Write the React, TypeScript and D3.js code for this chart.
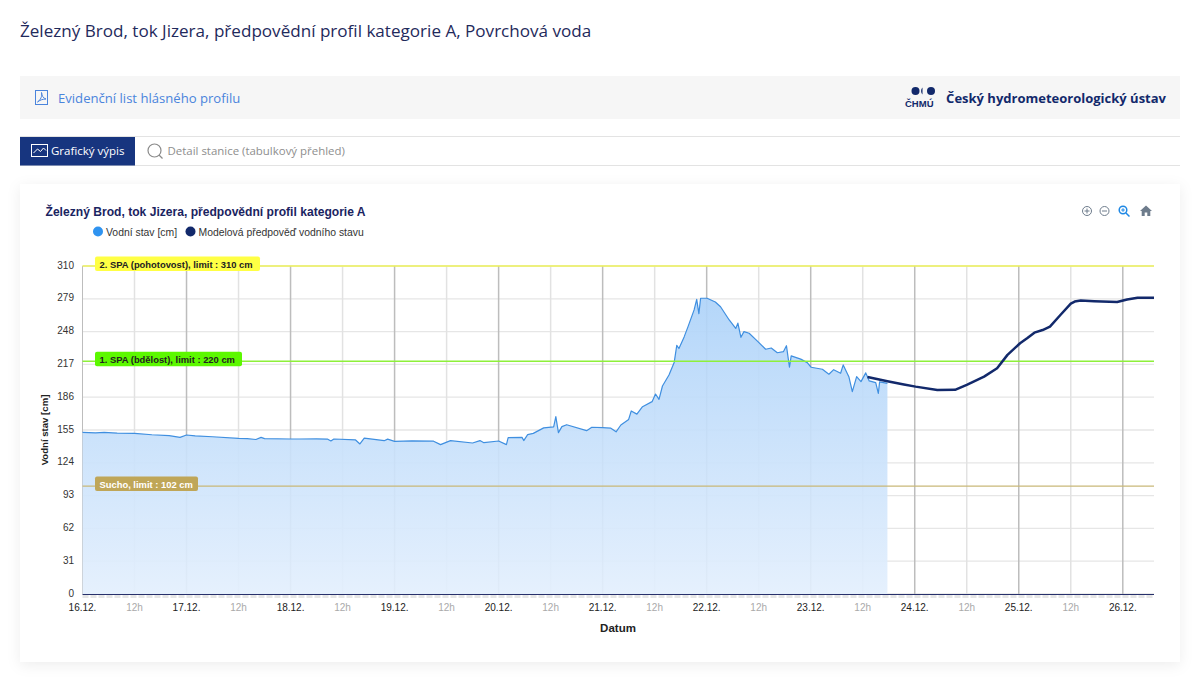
import { scaleLinear, line, area, curveLinear } from 'd3';

// Hours since 16.12. 00:00 and water level in cm.
const waterHours = [0, 3, 5, 8, 12, 16, 20, 22.5, 24, 26, 30, 36, 38, 40, 41.2, 42, 48, 50, 54, 56.5, 57.3, 58, 63, 64, 65, 69.6, 70.4, 72, 76, 81, 82.6, 84.9, 90, 91.7, 92.6, 96, 97.8, 98.2, 101.4, 101.8, 102.7, 104, 106.4, 108.7, 109.2, 109.8, 110.6, 111.7, 116.3, 117.5, 120, 121.9, 123.1, 124.2, 126, 126.6, 127.9, 129.2, 131.4, 132.2, 133, 133.8, 135.3, 136.5, 137.1, 137.6, 138.8, 139.7, 141.1, 141.7, 142.2, 142.6, 144.1, 146, 147.2, 149.2, 150.7, 151.2, 151.9, 152.6, 153.8, 155.7, 157.6, 158.9, 160.3, 161.7, 162.4, 163.1, 163.5, 165.7, 167.2, 168.1, 170.7, 172.2, 173.3, 174.9, 175.5, 176.8, 177.6, 178.6, 179.6, 180.7, 181.5, 183, 183.6, 183.9, 185.7];
const waterLevels = [152.8, 152.2, 152.8, 152, 151.9, 150.5, 149.6, 148, 150.3, 149.5, 148.6, 147, 146.8, 146, 148, 146.8, 146.5, 146.5, 146.6, 146.4, 144.6, 146.5, 145.6, 141.8, 147.4, 144.9, 146.4, 144.3, 144.8, 144.4, 141.2, 145, 142.7, 145, 143, 144.6, 141.2, 147.8, 148, 145, 150.6, 151.8, 157, 158, 167.6, 152.5, 158.2, 160, 154.4, 157.6, 157.2, 156.7, 153.3, 159.7, 165, 173, 170, 177, 181.8, 189, 184, 196.6, 207, 218.7, 235, 232, 243, 252.7, 268.5, 278.5, 265, 279.5, 279.5, 276, 271.5, 259, 251, 256, 242.6, 248, 246.4, 239, 231.3, 232.5, 228, 229, 234.7, 214.3, 225, 222, 218.7, 214.3, 212.4, 207.7, 212, 208.6, 216.5, 205.4, 191.3, 205.4, 200.7, 209, 201.4, 199.8, 189.6, 200.5, 199];

const forecastHours = [181.1, 185.7, 189.5, 192.2, 197.2, 201.3, 204, 208, 211, 213.4, 216.3, 218, 219.6, 221.5, 223.2, 225.6, 228, 228.9, 230.3, 233.4, 238.7, 241, 243.4, 247.2];
const forecastLevels = [205, 201, 198, 196, 192.9, 193, 197.7, 205.4, 213.3, 226, 237, 242, 247, 249.5, 252.7, 263.7, 274.4, 276.4, 277.3, 276.7, 276, 278.3, 279.9, 279.9];

const yTicks = [0, 31, 62, 93, 124, 155, 186, 217, 248, 279, 310];
const dayLabels = ['16.12.', '17.12.', '18.12.', '19.12.', '20.12.', '21.12.', '22.12.', '23.12.', '24.12.', '25.12.', '26.12.'];

const limitValues = [310, 220, 102];
const limitLabels = ['2. SPA (pohotovost), limit : 310 cm', '1. SPA (bdělost), limit : 220 cm', 'Sucho, limit : 102 cm'];
const limitLineColors = ['#eef25a', '#8ef03a', '#c9b878'];
const limitBoxColors = ['#ffff44', '#5cf800', '#bfa658'];
const limitTextColors = ['#222', '#222', '#fff'];
const limitBoxWidths = [165, 147, 103];

const NAVY = '#12296b';
const CHART_FONT = '"Liberation Sans", Arial, sans-serif';
const UI_FONT = '"Open Sans", "Noto Sans", sans-serif';

const x = scaleLinear().domain([0, 247.2]).range([82.5, 1154]);
const y = scaleLinear().domain([0, 310]).range([594, 266]);

const pair = (hours: number[], values: number[]) => hours.map((h, i) => [h, values[i]] as [number, number]);

const waterLine = line<[number, number]>().x((d) => x(d[0])).y((d) => y(d[1])).curve(curveLinear);
const waterArea = area<[number, number]>().x((d) => x(d[0])).y0(y(0)).y1((d) => y(d[1])).curve(curveLinear);

export default function App() {
  const water = pair(waterHours, waterLevels);
  const forecast = pair(forecastHours, forecastLevels);

  return (
    <>
      <style>{'body{margin:0;background:#fff}'}</style>
      <svg width={1200} height={684} style={{ display: 'block' }}>
        <defs>
          <linearGradient id="waterFill" gradientUnits="userSpaceOnUse" x1="0" y1={y(280)} x2="0" y2={y(0)}>
            <stop offset="0" stopColor="#aed3f9" />
            <stop offset="1" stopColor="#e3effd" />
          </linearGradient>
          <filter id="cardShadow" x="-3%" y="-5%" width="106%" height="110%">
            <feDropShadow dx="0" dy="3" stdDeviation="7" floodColor="#000" floodOpacity="0.07" />
          </filter>
        </defs>

        {/* page header */}
        <text x={20} y={37} fontFamily={UI_FONT} fontSize={17.08} fill="#1f2a5c">
          Železný Brod, tok Jizera, předpovědní profil kategorie A, Povrchová voda
        </text>

        <rect x={20} y={76} width={1160} height={43} fill="#f6f6f6" />
        <g fill="none" stroke="#4a84dc" strokeWidth={1}>
          <rect x={35.5} y={90.5} width={12} height={14} />
          <path d="M37.5 102c3-2 5-6 4-9.500c0 3 2 6 4.500 6.500c-3 0-6 1-8.500 3z" />
        </g>
        <text x={58} y={102.500} fontFamily={UI_FONT} fontSize={13.100} fill="#4a84dc">Evidenční list hlásného profilu</text>

        {/* logo */}
        <g fill="#12296b">
          <circle cx={915.500} cy={91} r={4} />
          <path d="M922.500 87.500a5 5 0 0 0 0 7z" />
          <circle cx={931} cy={91} r={4} />
          <text x={905} y={107} fontFamily={CHART_FONT} fontWeight="bold" fontSize={9.500}>ČHMÚ</text>
        </g>
        <text x={1166} y={102.500} textAnchor="end" fontFamily={UI_FONT} fontWeight="bold" fontSize={13} fill={NAVY}>Český hydrometeorologický ústav</text>

        {/* tabs */}
        <line x1={20} x2={1180} y1={136.500} y2={136.500} stroke="#e3e3e3" />
        <line x1={20} x2={1180} y1={165.500} y2={165.500} stroke="#e3e3e3" />
        <rect x={20} y={137} width={115} height={28.500} fill="#17357f" />
        <g fill="none" stroke="#fff" strokeWidth={1}>
          <rect x={31.500} y={144.500} width={16} height={12} />
          <path d="M33.500 153l4-4 3 2.500 3-3.500 2.500 2.500" />
        </g>
        <text x={51} y={155} fontFamily={UI_FONT} fontSize={11.500} fill="#fff">Grafický výpis</text>
        <g fill="none" stroke="#8a8a8a" strokeWidth={1.200}>
          <circle cx={154.500} cy={150.500} r={6.500} />
          <line x1={159} y1={155} x2={162.500} y2={158.500} />
        </g>
        <text x={167.500} y={155} fontFamily={UI_FONT} fontSize={11.450} fill="#8e8e8e">Detail stanice (tabulkový přehled)</text>

        {/* card */}
        <rect x={20} y={184} width={1160} height={478} fill="#fff" filter="url(#cardShadow)" />

        <text x={45.500} y={215.500} fontFamily={CHART_FONT} fontWeight="bold" fontSize={12.100} fill="#1a2461">
          Železný Brod, tok Jizera, předpovědní profil kategorie A
        </text>

        {/* legend */}
        <circle cx={98} cy={231.500} r={5} fill="#2f93f0" />
        <text x={106} y={235.500} fontFamily={CHART_FONT} fontSize={10.400} fill="#333">Vodní stav [cm]</text>
        <circle cx={190.500} cy={231.500} r={5} fill={NAVY} />
        <text x={198.500} y={235.500} fontFamily={CHART_FONT} fontSize={10.400} fill="#333">Modelová předpověď vodního stavu</text>

        {/* toolbar */}
        <g fill="none" stroke="#6e7c8c" strokeWidth={1}>
          <circle cx={1087} cy={211} r={4.500} />
          <path d="M1084.500 211h5M1087 208.500v5" />
          <circle cx={1104.500} cy={211} r={4.500} />
          <path d="M1102 211h5" />
        </g>
        <g fill="none" stroke="#1e88e5" strokeWidth={1.500}>
          <circle cx={1123} cy={210} r={3.800} />
          <path d="M1126 213l3.500 3.500" />
          <path d="M1121.200 210h3.600M1123 208.200v3.600" strokeWidth={1} />
        </g>
        <path d="M1146 205.500l-6 5.500h1.700v5h3v-3.500h2.600v3.500h3v-5h1.700z" fill="#6e7c8c" />

        {/* grid */}
        {yTicks.map((t) => (
          <line key={t} x1={x(0)} x2={x(247.2)} y1={y(t)} y2={y(t)} stroke="#e6e6e6" strokeWidth={1.300} />
        ))}
        {dayLabels.map((d, i) => (
          <g key={d}>
            <line x1={x(i * 24)} x2={x(i * 24)} y1={y(310)} y2={y(0)} stroke="#bdbdbd" strokeWidth={i === 0 ? 1 : 1.500} />
            {i < dayLabels.length - 1 && (
              <line x1={x(i * 24 + 12)} x2={x(i * 24 + 12)} y1={y(310)} y2={y(0)} stroke="#e2e2e2" strokeWidth={1.500} />
            )}
          </g>
        ))}

        {/* series */}
        <path d={waterArea(water) ?? ''} fill="url(#waterFill)" fillOpacity={0.92} />
        <path d={waterLine(water) ?? ''} fill="none" stroke="#3f8fe0" strokeWidth={1.200} strokeLinejoin="round" />

        {/* limits */}
        {limitValues.map((v, i) => (
          <line key={v} x1={x(0)} x2={x(247.2)} y1={y(v)} y2={y(v)} stroke={limitLineColors[i]} strokeWidth={1.300} />
        ))}
        <path d={waterLine(forecast) ?? ''} fill="none" stroke={NAVY} strokeWidth={2.500} strokeLinejoin="round" />
        {limitValues.map((v, i) => (
          <g key={v}>
            <rect x={95} y={y(v) - 9.500} width={limitBoxWidths[i]} height={14.500} rx={2} fill={limitBoxColors[i]} />
            <text x={99.500} y={y(v) + 2} fontFamily={CHART_FONT} fontWeight="bold" fontSize={9.400} fill={limitTextColors[i]}>
              {limitLabels[i]}
            </text>
          </g>
        ))}

        {/* axes */}
        <line x1={x(0)} x2={x(247.2)} y1={596.500} y2={596.500} stroke="#e6e6e6" strokeWidth={3} strokeDasharray="6 2" />
        <line x1={x(0)} x2={x(247.2)} y1={594.500} y2={594.500} stroke="#27306b" strokeWidth={1.200} />
        {yTicks.map((t) => (
          <text key={t} x={74} y={y(t) + 2.500} textAnchor="end" fontFamily={CHART_FONT} fontSize={10} fill="#333">{t}</text>
        ))}
        {dayLabels.map((d, i) => (
          <g key={d} fontFamily={CHART_FONT} fontSize={10} textAnchor="middle">
            <text x={x(i * 24)} y={611} fill="#222">{d}</text>
            {i < dayLabels.length - 1 && <text x={x(i * 24 + 12)} y={611} fill="#aaa">12h</text>}
          </g>
        ))}
        <text x={618} y={632} textAnchor="middle" fontFamily={CHART_FONT} fontWeight="bold" fontSize={11.500} fill="#222">Datum</text>
        <text transform="translate(48 430) rotate(-90)" textAnchor="middle" fontFamily={CHART_FONT} fontWeight="bold" fontSize={9.600} fill="#222">Vodní stav [cm]</text>
      </svg>
    </>
  );
}
